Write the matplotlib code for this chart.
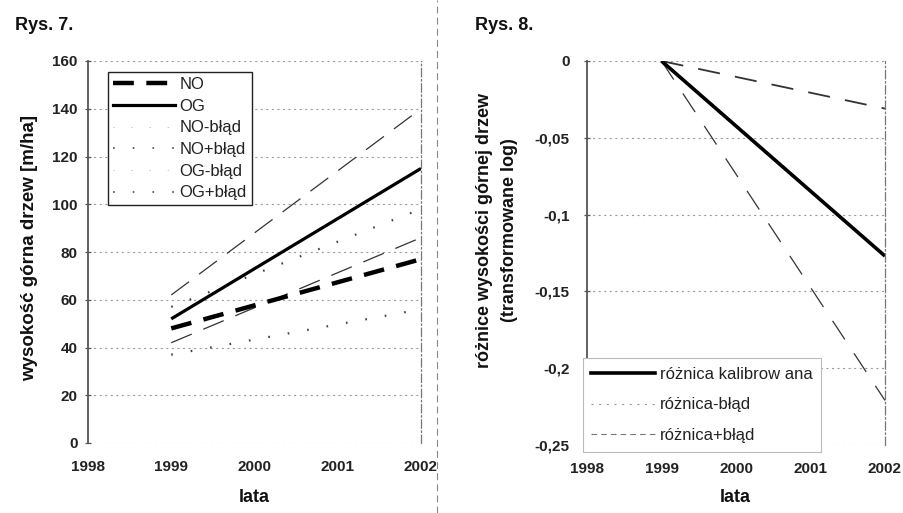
import matplotlib
matplotlib.use("Agg")
import matplotlib.pyplot as plt
from matplotlib.lines import Line2D

plt.rcParams['font.family'] = ['Liberation Sans', 'DejaVu Sans']
plt.rcParams['lines.scale_dashes'] = False

# ---------------- data ----------------
years = [1999, 2002]
NO = [48, 77]
OG = [52, 115]
NO_minus = [37, 56]
NO_plus = [57, 98]
OG_minus = [42, 86]
OG_plus = [62, 140]

left_yticks = [0, 20, 40, 60, 80, 100, 120, 140, 160]
xticks = [1998, 1999, 2000, 2001, 2002]

diff_cal = [0, -0.127]
diff_minus = [0, -0.221]
diff_plus = [0, -0.031]
right_yticks = [0, -0.05, -0.1, -0.15, -0.2, -0.25]
right_ytick_labels = ['0', '-0,05', '-0,1', '-0,15', '-0,2', '-0,25']

W, H = 904, 513
fig = plt.figure(figsize=(W / 100, H / 100), dpi=100)
fig.patch.set_facecolor('white')


def px_axes(x0, y0, x1, y1):
    return fig.add_axes([x0 / W, 1 - y1 / H, (x1 - x0) / W, (y1 - y0) / H])


def style_axes(ax, ylab_pad):
    for s in ['top', 'bottom']:
        ax.spines[s].set_visible(False)
    ax.spines['left'].set_color('#555555')
    ax.spines['left'].set_linewidth(1.3)
    ax.spines['right'].set_color('#777777')
    ax.spines['right'].set_linewidth(0.9)
    ax.spines['right'].set_linestyle((0, (6, 2, 1, 2)))
    ax.yaxis.grid(True, color='#9a9a9a', linestyle=(0, (1.5, 2.5)), linewidth=0.8)
    ax.set_axisbelow(True)
    ax.tick_params(axis='x', length=0, pad=12.5, labelsize=11)
    ax.tick_params(axis='y', direction='inout', length=5, width=0.9,
                   color='#555555', pad=ylab_pad, labelsize=11)
    for lab in ax.get_xticklabels() + ax.get_yticklabels():
        lab.set_fontweight('bold')
        lab.set_color('#222222')


# ---------------- left chart (Rys. 7) ----------------
axL = px_axes(88, 61, 421, 443)
axL.plot(years, OG_plus, color='#333333', lw=0.9, linestyle=(0, (16, 9)))
axL.plot(years, OG_minus, color='#333333', lw=0.9, linestyle=(0, (16, 9)))
axL.plot(years, NO_plus, color='#444444', lw=1.6, linestyle=(0, (1.2, 13)))
axL.plot(years, NO_minus, color='#444444', lw=1.6, linestyle=(0, (1.2, 13)))
axL.plot(years, OG, color='black', lw=2.3, solid_capstyle='butt')
axL.plot(years, NO, color='black', lw=3.2, linestyle=(0, (15, 9)))
axL.set_xlim(1998, 2002)
axL.set_ylim(0, 160)
axL.set_xticks(xticks)
axL.set_yticks(left_yticks)
style_axes(axL, 5)

hL = [
    Line2D([], [], color='black', lw=3.2, linestyle=(0, (15, 9))),
    Line2D([], [], color='black', lw=2.3),
    Line2D([], [], color='#bbbbbb', lw=0.6, linestyle=(0, (1, 12))),
    Line2D([], [], color='#666666', lw=1.4, linestyle=(0, (1.2, 13))),
    Line2D([], [], color='#bbbbbb', lw=0.6, linestyle=(0, (1, 12))),
    Line2D([], [], color='#666666', lw=1.4, linestyle=(0, (1.2, 13))),
]
labL = ['NO', 'OG', 'NO-błąd', 'NO+błąd', 'OG-błąd', 'OG+błąd']
legL = axL.legend(hL, labL, loc='upper left', bbox_to_anchor=(0.06, 0.971),
                  borderaxespad=0, fontsize=12, handlelength=3.7, handletextpad=0.3,
                  labelspacing=0.4, borderpad=0.3, fancybox=False, framealpha=1,
                  edgecolor='#222222')
legL.get_frame().set_linewidth(1.0)
for t in legL.get_texts():
    t.set_color('#222222')

fig.text(254 / W, 1 - 497 / H, 'lata', ha='center', va='center',
         fontsize=13, fontweight='bold', color='#111111')
fig.text(30 / W, 1 - 248 / H, 'wysokość górna drzew [m/ha]', rotation=90,
         ha='center', va='center', fontsize=13.5, fontweight='bold', color='#111111')
fig.text(15 / W, 1 - 25 / H, 'Rys. 7.', ha='left', va='center',
         fontsize=13, fontweight='bold', color='#111111')

# ---------------- right chart (Rys. 8) ----------------
axR = px_axes(587, 61, 885, 445)
axR.plot(years, diff_plus, color='#333333', lw=1.3, linestyle=(0, (16, 11)))
axR.plot(years, diff_minus, color='#333333', lw=0.9, linestyle=(0, (16, 12)))
axR.plot(years, diff_cal, color='black', lw=2.6, solid_capstyle='butt')
axR.set_xlim(1998, 2002)
axR.set_ylim(-0.25, 0)
axR.set_xticks(xticks)
axR.set_yticks(right_yticks)
axR.set_yticklabels(right_ytick_labels)
style_axes(axR, 10)

hR = [
    Line2D([], [], color='black', lw=2.6),
    Line2D([], [], color='#999999', lw=0.8, linestyle=(0, (1.5, 4))),
    Line2D([], [], color='#777777', lw=0.8, linestyle=(0, (4, 3))),
]
labR = ['różnica kalibrow ana', 'różnica-błąd', 'różnica+błąd']
legR = axR.legend(hR, labR, loc='upper left', bbox_to_anchor=(-0.013, 0.226),
                  borderaxespad=0, fontsize=12, handlelength=3.8, handletextpad=0.3,
                  labelspacing=0.95, borderpad=0.5, fancybox=False, framealpha=1,
                  edgecolor='#bbbbbb')
legR.get_frame().set_linewidth(0.8)
for t in legR.get_texts():
    t.set_color('#222222')

fig.text(735 / W, 1 - 497 / H, 'lata', ha='center', va='center',
         fontsize=13, fontweight='bold', color='#111111')
fig.text(497 / W, 1 - 230 / H, 'różnice wysokości górnej drzew\n(transformowane log)',
         rotation=90, ha='center', va='center', multialignment='center',
         fontsize=13, fontweight='bold', color='#111111', linespacing=1.6)
fig.text(475 / W, 1 - 25 / H, 'Rys. 8.', ha='left', va='center',
         fontsize=13, fontweight='bold', color='#111111')

# separator between panels
fig.add_artist(Line2D([437 / W, 437 / W], [0, 1], transform=fig.transFigure,
                      color='#888888', lw=0.8, linestyle=(0, (5, 3))))

fig.savefig('out.png', dpi=100, facecolor='white')
